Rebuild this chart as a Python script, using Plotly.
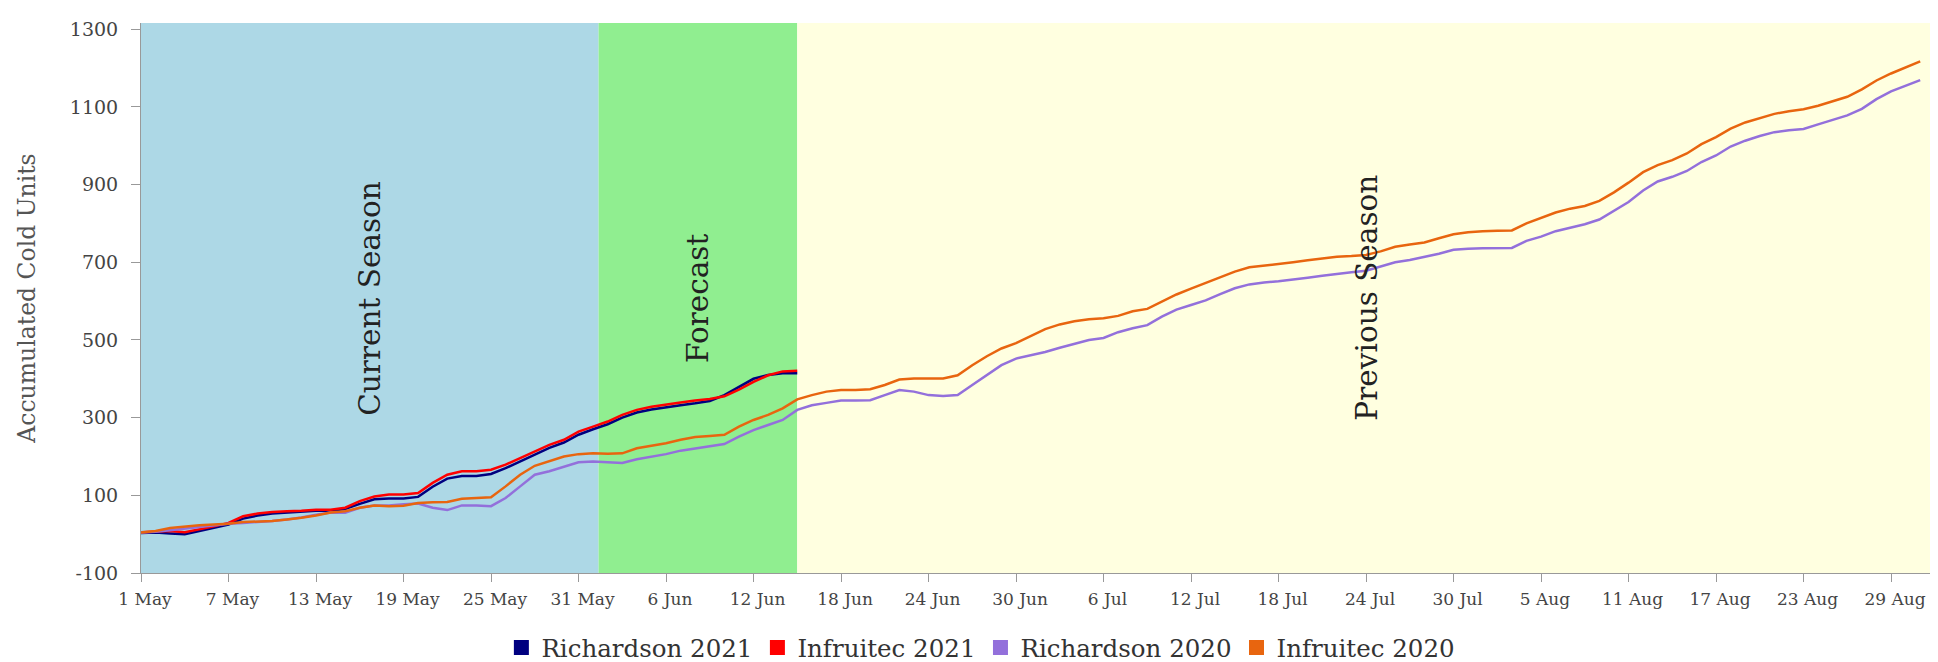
import pandas as pd
import plotly.graph_objects as go

start_date = "2021-05-01"

richardson_2021 = [3, 4, 2, 0, 8, 16, 25, 40, 48, 53, 55, 57, 60, 60, 65, 78, 90, 92, 92, 96,
                   122, 143, 150, 150, 155, 170, 188, 205, 222, 236, 256, 270, 283, 300, 313, 321,
                   327, 332, 337, 343, 358, 380, 400, 410, 414, 414]
infruitec_2021 = [5, 6, 8, 5, 12, 20, 29, 46, 53, 57, 59, 60, 63, 63, 68, 85, 97, 102, 102, 106,
                  132, 153, 162, 162, 166, 179, 196, 213, 230, 243, 264, 277, 290, 307, 320, 328,
                  334, 339, 344, 348, 355, 372, 392, 409, 419, 421]
richardson_2020 = [4, 6, 10, 14, 19, 23, 27, 29, 31, 34, 38, 43, 50, 56, 55, 68, 74, 74, 77, 79,
                   68, 62, 74, 74, 72, 93, 123, 153, 162, 174, 185, 187, 185, 183, 193, 200,
                   206, 215, 221, 227, 232, 251, 268, 281, 294, 320, 332, 338, 344, 344, 345,
                   358, 371, 367, 358, 356, 358, 384, 409, 435, 452, 461, 469, 480, 489, 500,
                   505, 520, 530, 538, 560, 578, 590, 602, 618, 633, 643, 648, 651, 655, 660,
                   665, 670, 674, 678, 689, 700, 706, 714, 722, 732, 735, 736, 737, 737, 755,
                   766, 780, 790, 798, 810, 832, 855, 885, 908, 920, 935, 958, 975, 998, 1013,
                   1025, 1035, 1040, 1043, 1055, 1066, 1078, 1095, 1120, 1140, 1155, 1169]
infruitec_2020 = [4, 8, 16, 20, 23, 25, 27, 31, 32, 34, 38, 42, 48, 56, 59, 68, 74, 72, 73, 80,
                  82, 83, 91, 93, 95, 123, 153, 176, 187, 200, 206, 208, 207, 208, 221, 227,
                  234, 243, 250, 253, 256, 277, 294, 307, 324, 347, 358, 367, 371, 371, 373,
                  384, 398, 401, 401, 401, 409, 435, 458, 478, 492, 510, 528, 540, 548, 553,
                  556, 562, 574, 580, 598, 617, 632, 646, 662, 676, 687, 691, 695, 700, 705,
                  710, 714, 716, 719, 728, 740, 746, 751, 762, 772, 777, 780, 781, 782, 800,
                  815, 828, 838, 845, 858, 880, 905, 932, 950, 963, 980, 1004, 1022, 1044, 1060,
                  1071, 1082, 1089, 1094, 1103, 1115, 1126, 1145, 1168, 1186, 1201, 1217]

series_names = ["Richardson 2021", "Infruitec 2021", "Richardson 2020", "Infruitec 2020"]
series_values = [richardson_2021, infruitec_2021, richardson_2020, infruitec_2020]
series_colors = ["#000080", "#FF0000", "#9370DB", "#E8650F"]

y_tick_values = [-100, 100, 300, 500, 700, 900, 1100, 1300]
y_tick_labels = ["-100", "100", "300", "500", "700", "900", "1100", "1300"]

region_labels = ["Current Season", "Forecast", "Previous Season"]
region_bounds = ["2021-05-01T00:00", "2021-06-01T09:00", "2021-06-15T00:00", "2021-09-01T02:00"]
region_colors = ["#ADD8E6", "#90EE90", "#FFFFE0"]

FONT = "DejaVu Serif"

fig = go.Figure()

for name, vals, col in zip(series_names, series_values, series_colors):
    dates = pd.date_range(start_date, periods=len(vals), freq="D")
    fig.add_trace(go.Scatter(x=dates, y=vals, mode="lines", name=name,
                             line=dict(color=col, width=2.5), showlegend=False))

for name, col in zip(series_names, series_colors):
    fig.add_trace(go.Scatter(x=[None], y=[None], mode="markers", name=name,
                             marker=dict(symbol="square", size=15, color=col)))

bounds = [pd.Timestamp(b) for b in region_bounds]
for i, (lab, col) in enumerate(zip(region_labels, region_colors)):
    fig.add_shape(type="rect", xref="x", yref="paper", x0=bounds[i], x1=bounds[i + 1],
                  y0=0, y1=1, fillcolor=col, line=dict(width=0), layer="below")
    mid = bounds[i] + (bounds[i + 1] - bounds[i]) / 2
    fig.add_annotation(x=mid, y=0.5, xref="x", yref="paper", text=lab, textangle=-90,
                       showarrow=False, font=dict(family=FONT, size=29.5, color="#222222"))

fig.update_layout(
    width=1938, height=662,
    margin=dict(l=133, r=10, t=12, b=97),
    paper_bgcolor="white", plot_bgcolor="white",
    font=dict(family=FONT, color="#444444"),
    legend=dict(orientation="h", xref="container", yref="container", x=0.502, y=0.0,
                xanchor="center", yanchor="bottom", itemwidth=30,
                font=dict(family=FONT, size=24.5, color="#333333")),
)
fig.update_xaxes(range=[bounds[0], bounds[-1]], tick0=start_date, dtick=6 * 86400000,
                 tickformat="%-d %b", showgrid=False, zeroline=False, showline=True,
                 linecolor="#999999", linewidth=1, ticks="outside", ticklen=8, tickcolor="#999999",
                 ticklabelshift=4, ticklabelstandoff=3,
                 tickfont=dict(family=FONT, size=17, color="#444444"))
fig.update_yaxes(range=[-100, 1316], tickmode="array", tickvals=y_tick_values, ticktext=y_tick_labels,
                 showgrid=False, zeroline=False,
                 showline=True, linecolor="#999999", linewidth=1, ticks="outside", ticklen=9,
                 ticklabelstandoff=9,
                 tickcolor="#999999", tickfont=dict(family=FONT, size=19, color="#444444"),
                 title=dict(text="Accumulated Cold Units", standoff=27,
                            font=dict(family=FONT, size=23.5, color="#555555")))

fig.write_html("out.html")
